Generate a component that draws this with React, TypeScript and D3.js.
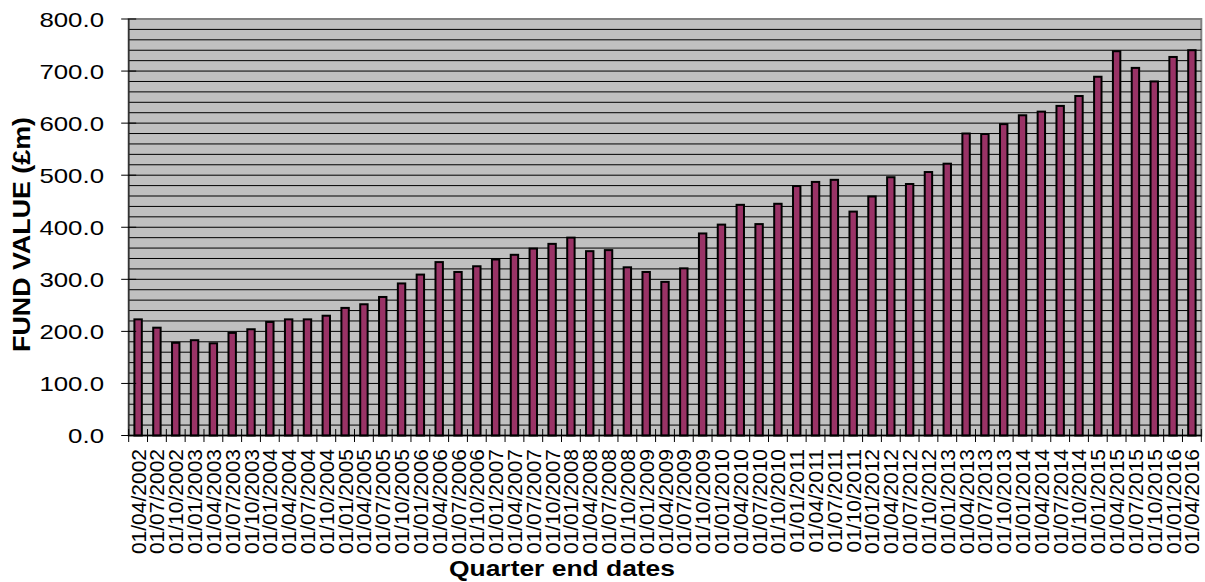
import React, { useEffect, useRef } from "react";
import * as d3 from "d3";

const quarters: string[] = [
  "01/04/2002", "01/07/2002", "01/10/2002",
  "01/01/2003", "01/04/2003", "01/07/2003", "01/10/2003",
  "01/01/2004", "01/04/2004", "01/07/2004", "01/10/2004",
  "01/01/2005", "01/04/2005", "01/07/2005", "01/10/2005",
  "01/01/2006", "01/04/2006", "01/07/2006", "01/10/2006",
  "01/01/2007", "01/04/2007", "01/07/2007", "01/10/2007",
  "01/01/2008", "01/04/2008", "01/07/2008", "01/10/2008",
  "01/01/2009", "01/04/2009", "01/07/2009", "01/10/2009",
  "01/01/2010", "01/04/2010", "01/07/2010", "01/10/2010",
  "01/01/2011", "01/04/2011", "01/07/2011", "01/10/2011",
  "01/01/2012", "01/04/2012", "01/07/2012", "01/10/2012",
  "01/01/2013", "01/04/2013", "01/07/2013", "01/10/2013",
  "01/01/2014", "01/04/2014", "01/07/2014", "01/10/2014",
  "01/01/2015", "01/04/2015", "01/07/2015", "01/10/2015",
  "01/01/2016", "01/04/2016",
];

// fund value in £m at each quarter end
const fundValues: number[] = [
  225, 209, 180, 185, 179, 199, 206, 220, 225, 225,
  232, 247, 254, 268, 294, 311, 335, 316, 327, 340,
  349, 361, 370, 382, 356, 358, 325, 316, 297, 323,
  390, 407, 445, 408, 447, 481, 489, 493, 432, 461,
  498, 485, 508, 524, 582, 581, 600, 617, 624, 635,
  654, 691, 740, 708, 682, 729, 742,
];

const yTicks: number[] = [0, 100, 200, 300, 400, 500, 600, 700, 800];
const gridStep = 20;

const W = 1205;
const H = 582;
const FONT = "'Liberation Sans', Arial, sans-serif";

const App = () => {
  const ref = useRef<SVGSVGElement>(null);

  useEffect(() => {
    if (!ref.current) return;
    const svg = d3.select(ref.current);
    svg.selectAll("*").remove();

    const left = 128.7, right = 1201.3, top = 19, bottom = 435.5;

    const x = d3.scaleBand<string>().domain(quarters).range([left, right]).padding(0);
    const y = d3.scaleLinear().domain([0, 800]).range([bottom, top]);
    const bw = x.bandwidth();

    // plot area
    svg.append("rect")
      .attr("x", left).attr("y", top)
      .attr("width", right - left).attr("height", bottom - top)
      .attr("fill", "#c0c0c0")
      .attr("stroke", "#808080")
      .attr("stroke-width", 2);

    // gridlines every 20
    const grid = d3.range(gridStep, 800, gridStep);
    svg.append("g")
      .selectAll("line")
      .data(grid)
      .join("line")
      .attr("x1", left).attr("x2", right)
      .attr("y1", (d) => y(d)).attr("y2", (d) => y(d))
      .attr("stroke", "#000")
      .attr("stroke-width", 1);

    // bars
    svg.append("g")
      .selectAll("rect")
      .data(fundValues)
      .join("rect")
      .attr("x", (_, i) => x(quarters[i])! + bw * 0.25 + 1)
      .attr("width", bw * 0.5 - 2)
      .attr("y", (d) => y(d) + 1)
      .attr("height", (d) => bottom - y(d) - 1)
      .attr("fill", "#993366")
      .attr("stroke", "#000")
      .attr("stroke-width", 2);

    // axes lines
    svg.append("line")
      .attr("x1", left).attr("x2", left)
      .attr("y1", top).attr("y2", bottom)
      .attr("stroke", "#333").attr("stroke-width", 1.5);
    svg.append("line")
      .attr("x1", left).attr("x2", right)
      .attr("y1", bottom).attr("y2", bottom)
      .attr("stroke", "#000").attr("stroke-width", 1.5);

    // y ticks and labels
    const yAxis = svg.append("g");
    yAxis.selectAll("line")
      .data(yTicks)
      .join("line")
      .attr("x1", left - 7.5).attr("x2", left + 7.5)
      .attr("y1", (d) => y(d)).attr("y2", (d) => y(d))
      .attr("stroke", "#000").attr("stroke-width", 1);
    yAxis.selectAll("text")
      .data(yTicks)
      .join("text")
      .attr("transform", (d) => `translate(104,${y(d) + 7.5}) scale(1.23,1)`)
      .attr("text-anchor", "end")
      .attr("font-family", FONT)
      .attr("font-size", 21)
      .attr("fill", "#000")
      .text((d) => d3.format(".1f")(d));

    // x ticks between categories
    const xt = quarters.map((q) => x(q)!).concat([right]);
    svg.append("g")
      .selectAll("line")
      .data(xt)
      .join("line")
      .attr("x1", (d) => d).attr("x2", (d) => d)
      .attr("y1", bottom - 6.5).attr("y2", bottom + 6.5)
      .attr("stroke", "#000").attr("stroke-width", 1);

    // x labels, rotated
    svg.append("g")
      .selectAll("text")
      .data(quarters)
      .join("text")
      .attr("transform", (d) => `translate(${x(d)! + bw / 2 + 7.5},449) rotate(-90)`)
      .attr("text-anchor", "end")
      .attr("font-family", FONT)
      .attr("font-size", 21)
      .attr("fill", "#000")
      .text((d) => d);

    // axis titles
    svg.append("text")
      .attr("transform", "translate(29.5,234.5) rotate(-90)")
      .attr("text-anchor", "middle")
      .attr("font-family", FONT)
      .attr("font-weight", "bold")
      .attr("font-size", 23)
      .attr("textLength", 235)
      .attr("lengthAdjust", "spacingAndGlyphs")
      .text("FUND VALUE (£m)");

    svg.append("text")
      .attr("x", 562).attr("y", 576)
      .attr("text-anchor", "middle")
      .attr("font-family", FONT)
      .attr("font-weight", "bold")
      .attr("font-size", 22)
      .attr("textLength", 226)
      .attr("lengthAdjust", "spacingAndGlyphs")
      .text("Quarter end dates");
  }, []);

  return (
    <div style={{ position: "absolute", left: 0, top: 0 }}>
      <svg ref={ref} width={W} height={H} style={{ display: "block", background: "#fff" }} />
    </div>
  );
};

export default App;
